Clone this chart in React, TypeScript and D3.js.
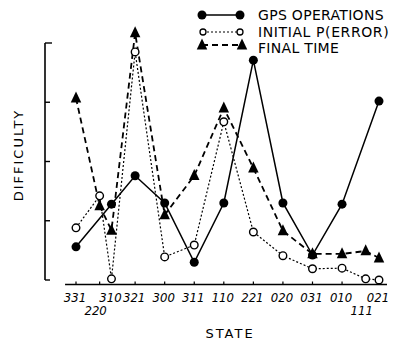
import React from "react";
import * as d3 from "d3";

// States in plotting order; statePos is the order value along the state axis
const states = ["331", "220", "310", "321", "300", "311", "110", "221", "020", "031", "010", "111", "021"];
const statePos = [0, 0.8, 1.2, 2, 3, 4, 5, 6, 7, 8, 9, 9.8, 10.25];
const secondRowStates = ["220", "111"];
const tickStates = ["331", "220", "321", "300", "311", "110", "221", "020", "031", "010"];

// GPS operations (no value for 220 and 111)
const gpsValues: (number | null)[] = [0.56, null, 1.28, 1.76, 1.3, 0.3, 1.3, 3.71, 1.3, 0.42, 1.28, null, 3.02];
// Initial P(error)
const initialValues: (number | null)[] = [0.88, 1.42, 0.02, 3.85, 0.39, 0.59, 2.67, 0.81, 0.41, 0.19, 0.2, 0.02, 0.0];
// Final time
const finalValues: (number | null)[] = [3.07, 1.25, 0.84, 4.17, 1.1, 1.76, 2.9, 1.89, 0.83, 0.44, 0.44, 0.49, 0.37];

const yTicks = [0, 1, 2, 3, 4];
const legendLabels = ["GPS OPERATIONS", "INITIAL P(ERROR)", "FINAL TIME"];

const W = 399;
const H = 343;
const font = "'DejaVu Sans', sans-serif";
const narrow = "'Liberation Sans Narrow', 'DejaVu Sans Condensed', sans-serif";

export default function App() {
  const x = d3.scaleLinear().domain([0, 10.25]).range([76, 379]);
  const y = d3.scaleLinear().domain([0, 4]).range([280, 43]);

  const mk = (vals: (number | null)[]) =>
    states
      .map((s, i) => ({ s, px: x(statePos[i]), v: vals[i] }))
      .filter((d) => d.v !== null)
      .map((d) => ({ ...d, py: y(d.v as number) }));

  const gps = mk(gpsValues);
  const init = mk(initialValues);
  const fin = mk(finalValues);

  const line = d3
    .line<{ px: number; py: number }>()
    .x((d) => d.px)
    .y((d) => d.py);

  const tri = (cx: number, cy: number, w = 10.5, h = 11) =>
    `M${cx},${cy - h * 0.6}L${cx + w / 2},${cy + h * 0.4}L${cx - w / 2},${cy + h * 0.4}Z`;

  const axisY = 284.5;
  const posOf = (s: string) => x(statePos[states.indexOf(s)]);

  return (
    <svg
      width={W}
      height={H}
      style={{ position: "absolute", left: 0, top: 0, background: "#fff" }}
    >
      {/* Y axis */}
      <line x1={45} x2={45} y1={y(4)} y2={y(0)} stroke="#000" strokeWidth={1.6} />
      {yTicks.map((t) => (
        <line key={t} x1={45} x2={t === 4 ? 52 : 50} y1={y(t)} y2={y(t)} stroke="#000" strokeWidth={1.4} />
      ))}
      {/* X axis */}
      <line x1={x(-0.37)} x2={x(10.52)} y1={axisY} y2={axisY} stroke="#000" strokeWidth={1.6} />
      {tickStates.map((s) => (
        <line key={s} x1={posOf(s)} x2={posOf(s)} y1={axisY} y2={axisY - 3} stroke="#000" strokeWidth={1.2} />
      ))}
      {states.map((s) => {
        const second = secondRowStates.includes(s);
        return (
          <text
            key={s}
            x={posOf(s) + (second ? -4 : -1)}
            y={second ? 315 : 302}
            textAnchor="middle"
            fontFamily={narrow}
            fontSize={13}
            fontStyle="italic"
            fill="#000"
          >
            {s}
          </text>
        );
      })}
      <text x={230} y={338} textAnchor="middle" fontFamily={font} fontSize={13} letterSpacing={2} fill="#000">
        STATE
      </text>
      <text
        transform="translate(23,155) rotate(-90)"
        textAnchor="middle"
        fontFamily={font}
        fontSize={13}
        letterSpacing={2}
        fill="#000"
      >
        DIFFICULTY
      </text>

      {/* Lines */}
      <path d={line(gps) || ""} fill="none" stroke="#000" strokeWidth={1.5} />
      <path d={line(init) || ""} fill="none" stroke="#000" strokeWidth={1.2} strokeDasharray="2,2" />
      <path d={line(fin) || ""} fill="none" stroke="#000" strokeWidth={1.8} strokeDasharray="6,4" />

      {/* Markers */}
      {fin.map((d) => (
        <path key={"f" + d.s} d={tri(d.px, d.py)} fill="#000" />
      ))}
      {init.map((d) => (
        <circle key={"i" + d.s} cx={d.px} cy={d.py} r={3.8} fill="#fff" stroke="#000" strokeWidth={1.4} />
      ))}
      {gps.map((d) => (
        <circle key={"g" + d.s} cx={d.px} cy={d.py} r={4.5} fill="#000" />
      ))}

      {/* Legend */}
      <g>
        <line x1={202} x2={240} y1={15} y2={15} stroke="#000" strokeWidth={1.5} />
        <circle cx={202} cy={15} r={4.5} fill="#000" />
        <circle cx={240} cy={15} r={4.5} fill="#000" />
        <text x={258} y={20} fontFamily={font} fontSize={14} letterSpacing={0.3} fill="#000">
          {legendLabels[0]}
        </text>
        <line x1={203} x2={240} y1={32} y2={32} stroke="#000" strokeWidth={1.2} strokeDasharray="2,2" />
        <circle cx={203} cy={32} r={3} fill="#fff" stroke="#000" strokeWidth={1.3} />
        <circle cx={240} cy={32} r={3} fill="#fff" stroke="#000" strokeWidth={1.3} />
        <text x={258} y={37} fontFamily={font} fontSize={14} letterSpacing={0.6} fill="#000">
          {legendLabels[1]}
        </text>
        <line x1={202} x2={242} y1={45} y2={45} stroke="#000" strokeWidth={1.8} strokeDasharray="6,4" />
        <path d={tri(202, 45)} fill="#000" />
        <path d={tri(242, 45)} fill="#000" />
        <text x={258} y={53} fontFamily={font} fontSize={14} letterSpacing={0.3} fill="#000">
          {legendLabels[2]}
        </text>
      </g>
    </svg>
  );
}
